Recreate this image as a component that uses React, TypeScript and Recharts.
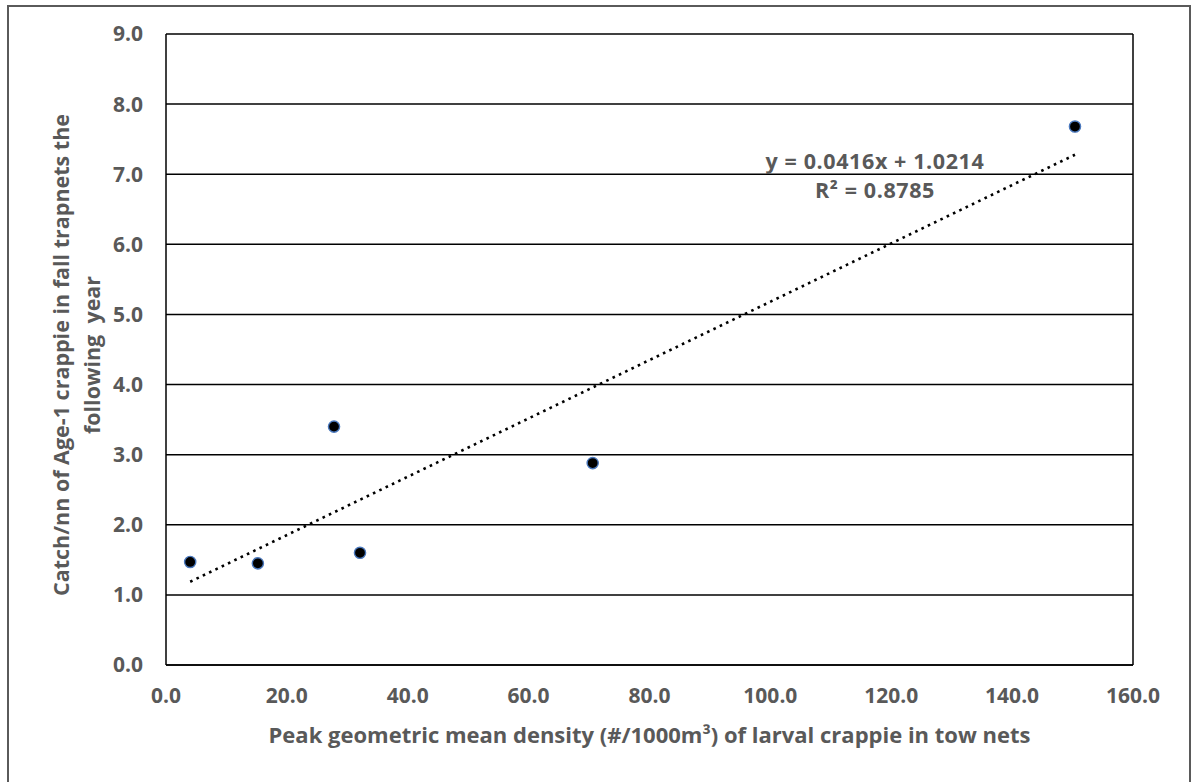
import React from 'react';
import {
  ScatterChart,
  Scatter,
  XAxis,
  YAxis,
  CartesianGrid,
  ReferenceLine,
} from 'recharts';

// larval density (x) vs age-1 catch the following year (y)
const densityValues = [4.0, 15.2, 27.8, 32.1, 70.6, 150.4];
const catchValues = [1.47, 1.45, 3.4, 1.6, 2.88, 7.68];

const xTicks = [0, 20, 40, 60, 80, 100, 120, 140, 160];
const yTicks = [0, 1, 2, 3, 4, 5, 6, 7, 8, 9];

// linear trendline as reported on the chart
const trendSlope = 0.0416;
const trendIntercept = 1.0214;
const trendRSquared = 0.8785;

const points = densityValues.map((x, i) => ({ x, y: catchValues[i] }));
const trendEnds = [Math.min(...densityValues), Math.max(...densityValues)];
const trendPoints = trendEnds.map(x => ({ x, y: trendSlope * x + trendIntercept }));

const FONT = '"Open Sans", Lato, sans-serif';
const GREY = '#595959';

const Marker = (props: any) => {
  const { cx, cy } = props;
  if (cx == null || cy == null) return <g />;
  return <circle cx={cx} cy={cy} r={5.6} fill="#000" stroke="#4a78bd" strokeWidth={1.4} />;
};

const YTitle = () => {
  const cx = 76;
  const cy = 355;
  return (
    <text
      transform={`translate(${cx},${cy}) rotate(-90)`}
      textAnchor="middle"
      fill={GREY}
      fontFamily={FONT}
      fontWeight={700}
      fontSize={21.5}
    >
      <tspan x={0} y={-7}>Catch/nn of Age-1 crappie in fall trapnets the</tspan>
      <tspan x={0} y={24} style={{ whiteSpace: 'pre' }}>following  year</tspan>
    </text>
  );
};

export default function App() {
  return (
    <div
      style={{
        position: 'fixed',
        left: 0,
        top: 0,
        width: 1193,
        height: 782,
        overflow: 'hidden',
        background: '#fff',
      }}
    >
      <div
        style={{
          position: 'absolute',
          left: 7,
          top: 5,
          width: 1180,
          height: 820,
          border: '2px solid #5a5a5a',
        }}
      />
      <ScatterChart
        width={1193}
        height={782}
        margin={{ top: 34, right: 60, bottom: 0, left: 106 }}
        style={{ position: 'absolute', left: 0, top: 0 }}
      >
        <CartesianGrid vertical={false} stroke="#000" strokeWidth={1.5} />
        <XAxis
          type="number"
          dataKey="x"
          domain={[0, 160]}
          ticks={xTicks}
          interval={0}
          height={117}
          tickLine={false}
          tickSize={0}
          tickMargin={23}
          axisLine={{ stroke: '#000', strokeWidth: 1.5 }}
          tickFormatter={(v: number) => v.toFixed(1)}
          tick={{ fill: GREY, fontSize: 21, fontWeight: 700, fontFamily: FONT }}
          label={{
            value: 'Peak geometric mean density (#/1000m³) of larval crappie in tow nets',
            position: 'insideTop',
            offset: 62,
            fill: GREY,
            fontSize: 22,
            fontWeight: 700,
            fontFamily: FONT,
          }}
        />
        <YAxis
          type="number"
          dataKey="y"
          domain={[0, 9]}
          ticks={yTicks}
          interval={0}
          width={60}
          tickLine={false}
          tickSize={0}
          tickMargin={23}
          axisLine={{ stroke: '#000', strokeWidth: 1.5 }}
          tickFormatter={(v: number) => v.toFixed(1)}
          tick={{ fill: GREY, fontSize: 21, fontWeight: 700, fontFamily: FONT }}
          label={{ content: YTitle }}
        />
        <ReferenceLine x={160} stroke="#000" strokeWidth={1.5} ifOverflow="extendDomain" />
        <Scatter
          data={trendPoints}
          line={{ stroke: '#000', strokeWidth: 2.6, strokeDasharray: '2.6 4.4' }}
          shape={() => <g />}
          isAnimationActive={false}
        />
        <Scatter data={points} shape={Marker} isAnimationActive={false} />
      </ScatterChart>
      <div
        style={{
          position: 'absolute',
          left: 725,
          width: 300,
          top: 146,
          textAlign: 'center',
          color: GREY,
          fontFamily: FONT,
          fontWeight: 700,
          fontSize: 21.5,
          letterSpacing: 0.6,
          lineHeight: '29px',
        }}
      >
        <div>y = {trendSlope}x + {trendIntercept}</div>
        <div>R² = {trendRSquared}</div>
      </div>
    </div>
  );
}
